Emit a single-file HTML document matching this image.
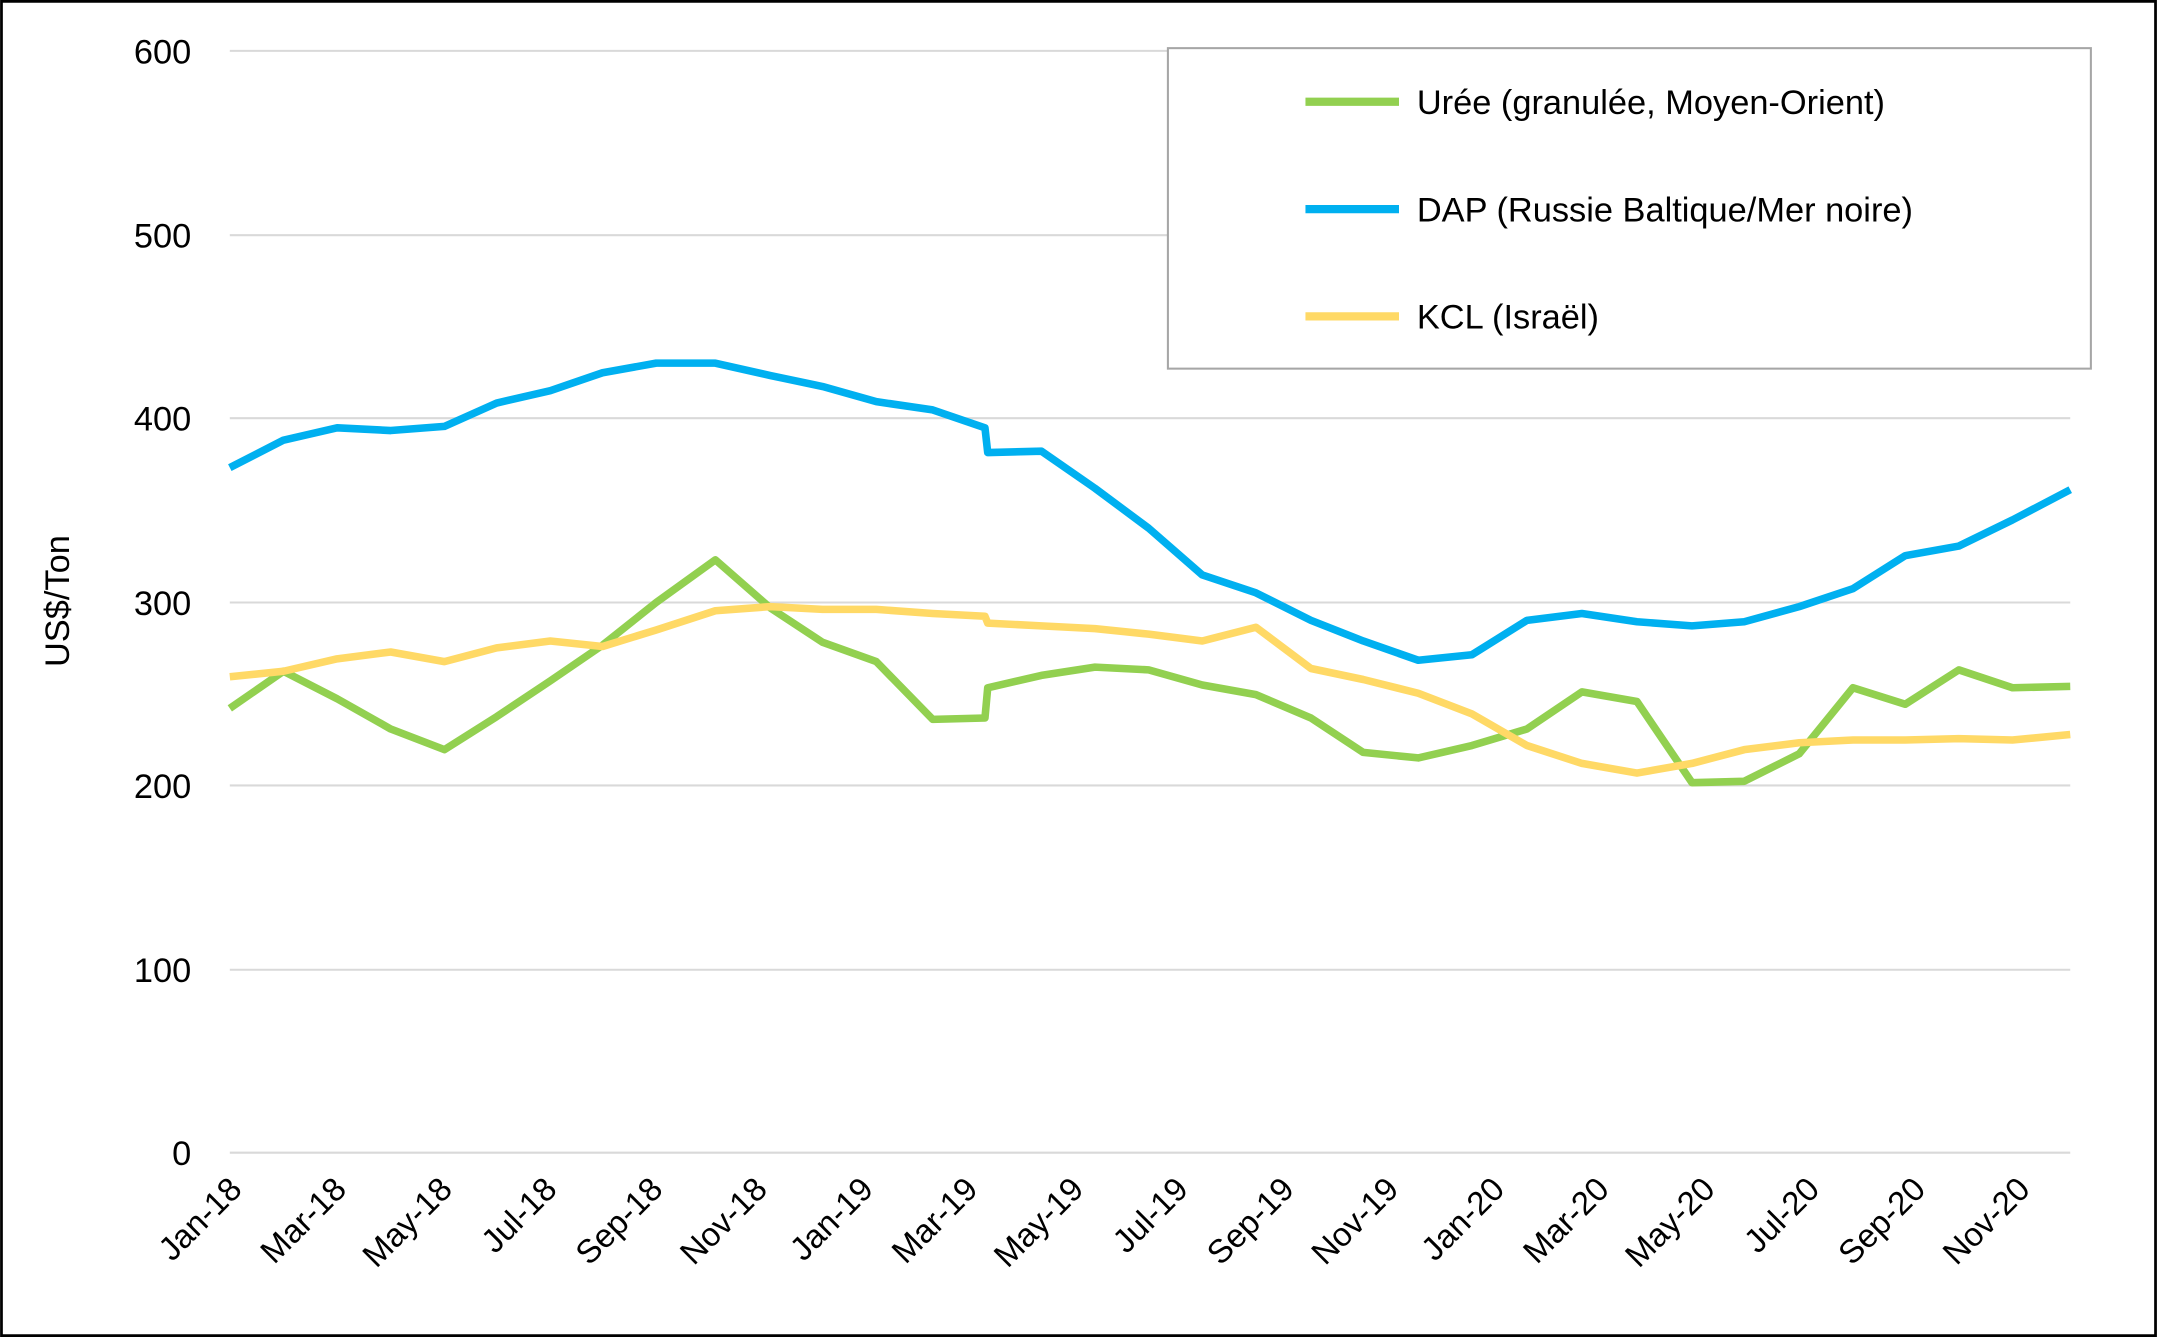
<!DOCTYPE html>
<html><head><meta charset="utf-8"><style>html,body{margin:0;padding:0;background:#fff}svg{display:block}</style></head>
<body>
<svg width="2157" height="1337" viewBox="0 0 1568 972" xmlns="http://www.w3.org/2000/svg" font-family="Liberation Sans, sans-serif">
<rect x="1" y="1" width="1566" height="970" fill="#fff" stroke="#000" stroke-width="2"/>
<g stroke="#d9d9d9" stroke-width="1.5">
<line x1="167" y1="37" x2="1505" y2="37"/><line x1="167" y1="171" x2="1505" y2="171"/><line x1="167" y1="304" x2="1505" y2="304"/><line x1="167" y1="438" x2="1505" y2="438"/><line x1="167" y1="571" x2="1505" y2="571"/><line x1="167" y1="705" x2="1505" y2="705"/><line x1="167" y1="838" x2="1505" y2="838"/>
</g>
<g font-size="25" text-anchor="end" fill="#000">
<text x="139" y="46">600</text><text x="139" y="180">500</text><text x="139" y="313">400</text><text x="139" y="447">300</text><text x="139" y="580">200</text><text x="139" y="714">100</text><text x="139" y="847">0</text>
</g>
<text transform="translate(50,437) rotate(-90)" font-size="25" text-anchor="middle">US$/Ton</text>
<g font-size="24" text-anchor="end">
<text transform="translate(177,866) rotate(-45)">Jan-18</text>
<text transform="translate(253,866) rotate(-45)">Mar-18</text>
<text transform="translate(330,866) rotate(-45)">May-18</text>
<text transform="translate(406,866) rotate(-45)">Jul-18</text>
<text transform="translate(483,866) rotate(-45)">Sep-18</text>
<text transform="translate(559,866) rotate(-45)">Nov-18</text>
<text transform="translate(636,866) rotate(-45)">Jan-19</text>
<text transform="translate(712,866) rotate(-45)">Mar-19</text>
<text transform="translate(789,866) rotate(-45)">May-19</text>
<text transform="translate(865,866) rotate(-45)">Jul-19</text>
<text transform="translate(942,866) rotate(-45)">Sep-19</text>
<text transform="translate(1018,866) rotate(-45)">Nov-19</text>
<text transform="translate(1095,866) rotate(-45)">Jan-20</text>
<text transform="translate(1171,866) rotate(-45)">Mar-20</text>
<text transform="translate(1248,866) rotate(-45)">May-20</text>
<text transform="translate(1324,866) rotate(-45)">Jul-20</text>
<text transform="translate(1401,866) rotate(-45)">Sep-20</text>
<text transform="translate(1477,866) rotate(-45)">Nov-20</text>
</g>
<g fill="none" stroke-width="5.5" stroke-linejoin="round">
<polyline stroke="#92d050" points="167,515 206,488 245,508 284,530 323,545 361,521 400,495 438,469 477,438 520,407 560,442 598,467 637,481 678,523 716,522 718,500 757,491 796,485 835,487 874,498 913,505 953,522 991,547 1031,551 1070,542 1110,530 1150,503 1190,510 1230,569 1268,568 1308,548 1347,500 1385,512 1424,487 1463,500 1505,499"/>
<polyline stroke="#ffd966" points="167,492 206,488 245,479 284,474 323,481 361,471 400,466 438,470 477,458 520,444 560,441 598,443 637,443 678,446 716,448 718,453 757,455 796,457 835,461 874,466 913,456 953,486 991,494 1031,504 1070,519 1110,542 1150,555 1190,562 1230,555 1268,545 1308,540 1347,538 1385,538 1424,537 1463,538 1505,534"/>
<polyline stroke="#00b0f0" points="167,340 206,320 245,311 284,313 323,310 361,293 400,284 438,271 477,264 520,264 560,273 598,281 637,292 678,298 716,311 718,329 757,328 796,355 835,384 874,418 913,431 953,451 991,466 1031,480 1070,476 1110,451 1150,446 1190,452 1230,455 1268,452 1308,441 1347,428 1385,404 1424,397 1463,378 1505,356"/>
</g>
<rect x="849" y="35" width="671" height="233" fill="#fff" stroke="#a6a6a6" stroke-width="1.5"/>
<g stroke-width="6">
<line x1="949" y1="74" x2="1017" y2="74" stroke="#92d050"/>
<line x1="949" y1="152" x2="1017" y2="152" stroke="#00b0f0"/>
<line x1="949" y1="230" x2="1017" y2="230" stroke="#ffd966"/>
</g>
<g font-size="25">
<text x="1030" y="83">Urée (granulée, Moyen-Orient)</text>
<text x="1030" y="161">DAP (Russie Baltique/Mer noire)</text>
<text x="1030" y="239">KCL (Israël)</text>
</g>
</svg>
</body></html>
